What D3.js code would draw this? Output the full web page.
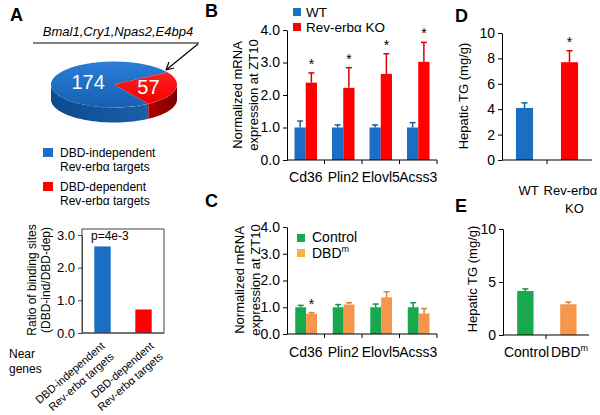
<!DOCTYPE html>
<html><head><meta charset="utf-8">
<script src="https://cdn.jsdelivr.net/npm/d3@7"></script>
<style>body{margin:0;background:#fff} svg{display:block;font-family:Arial,"Liberation Sans",Helvetica,sans-serif}</style>
</head><body><svg id="c" width="600" height="415"></svg>
<script>
// ---------------- DATA ----------------
const pieCats = ["DBD-independent", "DBD-dependent"];
const pieValues = [174, 57];
const pieGenes = "Bmal1,Cry1,Npas2,E4bp4";
const ratioCats = ["DBD-independent", "DBD-dependent"];
const ratioValues = [2.65, 0.72];
const ratioTicks = [0, 1, 2, 3];
const ratioP = "p=4e-3";

const genes = ["Cd36", "Plin2", "Elovl5", "Acss3"];
const exprTicks = [0, 1, 2, 3, 4];
const wtMean = [1, 1, 1, 1];
const wtErr = [0.2, 0.08, 0.08, 0.15];
const koMean = [2.38, 2.22, 2.65, 3.02];
const koErr = [0.3, 0.62, 0.62, 0.6];
const koSig = [true, true, true, true];

const ctrlMean = [1, 1, 1, 1];
const ctrlErr = [0.07, 0.1, 0.12, 0.17];
const dbdMean = [0.76, 1.1, 1.37, 0.77];
const dbdErr = [0.04, 0.07, 0.21, 0.18];
const dbdSig = [true, false, false, false];

const tgDCats = ["WT", "Rev-erbα KO"];
const tgDMean = [4.1, 7.7];
const tgDErr = [0.4, 0.9];
const tgDSig = [false, true];
const tgDTicks = [0, 2, 4, 6, 8, 10];

const tgECats = ["Control", "DBDm"];
const tgEMean = [4.15, 2.9];
const tgEErr = [0.2, 0.2];
const tgESig = [false, false];
const tgETicks = [0, 5, 10];

// ---------------- COLORS ----------------
const BLUE = "#1a6fc4", RED = "#ff0000", GREEN = "#18a84e", ORANGE = "#f5964a", ORANGE_LEG = "#f8b43a";

const svg = d3.select("#c");

function letter(t, x, y) {
  svg.append("text").attr("x", x).attr("y", y).attr("font-size", 18)
    .attr("font-weight", "bold").text(t);
}
function ylabel(lines, x0, cy, fs, lh) {
  lines.forEach((l, i) => {
    svg.append("text").attr("transform", `translate(${x0 + i * lh},${cy}) rotate(-90)`)
      .attr("text-anchor", "middle").attr("font-size", fs).text(l);
  });
}

function barPanel(o) {
  const g = svg.append("g");
  const x = d3.scaleBand().domain(o.cats).range(o.xr).padding(0);
  const y = d3.scaleLinear().domain(o.yd).range(o.yr);
  const sub = d3.scaleBand().domain(d3.range(o.series.length))
    .range([x.bandwidth() * o.gf[0], x.bandwidth() * o.gf[1]]).padding(0);
  o.series.forEach((s, si) => {
    const data = s.mean.map((v, i) => ({
      v, e: s.err[i], i,
      c: s.colors ? s.colors[i] : s.color,
      sig: s.sig ? s.sig[i] : false,
      cx: x(o.cats[i]) + sub(si) + sub.bandwidth() / 2
    }));
    const sg = g.append("g");
    sg.selectAll("rect").data(data).join("rect")
      .attr("x", d => d.cx - sub.bandwidth() / 2)
      .attr("width", sub.bandwidth())
      .attr("y", d => y(d.v)).attr("height", d => y(0) - y(d.v))
      .attr("fill", d => d.c);
    const ed = data.filter(d => d.e > 0);
    const ec = d => d3.color(d.c).darker(0.4).formatHex();
    sg.selectAll("line.e").data(ed).join("line").attr("class", "e")
      .attr("x1", d => d.cx).attr("x2", d => d.cx)
      .attr("y1", d => y(d.v)).attr("y2", d => y(d.v + d.e))
      .attr("stroke", ec).attr("stroke-width", 1.5);
    sg.selectAll("line.c").data(ed).join("line").attr("class", "c")
      .attr("x1", d => d.cx - 3).attr("x2", d => d.cx + 3)
      .attr("y1", d => y(d.v + d.e)).attr("y2", d => y(d.v + d.e))
      .attr("stroke", ec).attr("stroke-width", 1.5);
    sg.selectAll("text.s").data(data.filter(d => d.sig)).join("text").attr("class", "s")
      .attr("x", d => d.cx).attr("y", d => y(d.v + d.e) - 4)
      .attr("text-anchor", "middle").attr("font-size", 14).text("*");
  });
  const ya = g.append("g").attr("transform", `translate(${o.xr[0]},0)`)
    .call(d3.axisLeft(y).tickValues(o.ticks).tickSize(4).tickSizeOuter(0).tickPadding(3));
  ya.selectAll("text").attr("font-size", o.fs).attr("font-family", null).attr("fill", "#000");
  ya.selectAll("line,path").attr("stroke", o.axisColor || "#000");
  g.append("line").attr("x1", o.xr[0]).attr("x2", o.xr[1]).attr("y1", y(0)).attr("y2", y(0))
    .attr("stroke", o.axisColor || "#000");
  if (o.xticks) {
    const tk = o.xticksAt || o.cats;
    g.selectAll("line.xt").data(tk).join("line").attr("class", "xt")
      .attr("x1", c => x(c) + x.bandwidth()).attr("x2", c => x(c) + x.bandwidth())
      .attr("y1", y(0)).attr("y2", y(0) + 4).attr("stroke", "#000");
  }
  return { g, x, y, sub };
}

// ---------------- PANEL A (pie) ----------------
letter("A", 10, 21);
const pcx = 114, pcy = 84.5, prx = 63, pry = 23, pdepth = 15;
const k = pry / prx;
const pie = d3.pie().sort(null).startAngle(147 * Math.PI / 180).endAngle((147 + 360) * Math.PI / 180);
const parcs = pie(pieValues);
const defs = svg.append("defs");
function grad(id, c1, c2, vertical) {
  const gr = defs.append("linearGradient").attr("id", id)
    .attr("x1", 0).attr("y1", 0).attr("x2", vertical ? 0 : 1).attr("y2", vertical ? 1 : 0);
  gr.append("stop").attr("offset", "0%").attr("stop-color", c1);
  gr.append("stop").attr("offset", "100%").attr("stop-color", c2);
}
grad("gBlueTop", "#2a7ed6", "#1660b2", true);
grad("gRedTop", "#ff2020", "#f00000", true);
grad("gBlueSide", "#0d4a8e", "#1a5fa8", false);
grad("gRedSide", "#b00000", "#7a0000", false);
const topFill = ["url(#gBlueTop)", "url(#gRedTop)"];
const sideFill = ["url(#gBlueSide)", "url(#gRedSide)"];
parcs.forEach((a, i) => {
  const t0 = a.startAngle - Math.PI / 2, t1 = a.endAngle - Math.PI / 2;
  for (let m = -2; m <= 2; m++) {
    const lo = Math.max(t0, m * 2 * Math.PI), hi = Math.min(t1, m * 2 * Math.PI + Math.PI);
    if (hi > lo) {
      const n = 40, pts = [];
      for (let j = 0; j <= n; j++) {
        const t = lo + (hi - lo) * j / n;
        pts.push([pcx + prx * Math.cos(t), pcy + pry * Math.sin(t)]);
      }
      const bot = pts.slice().reverse().map(p => [p[0], p[1] + pdepth]);
      svg.append("path").attr("d", d3.line()(pts.concat(bot)) + "Z").attr("fill", sideFill[i]);
    }
  }
});
const arcGen = d3.arc().innerRadius(0).outerRadius(prx);
const topG = svg.append("g").attr("transform", `translate(${pcx},${pcy}) scale(1,${k})`);
topG.selectAll("path").data(parcs).join("path").attr("d", arcGen).attr("fill", (d, i) => topFill[i]);
const labR = [0.42, 0.56];
parcs.forEach((a, i) => {
  const mid = (a.startAngle + a.endAngle) / 2 - Math.PI / 2;
  const r = prx * labR[i];
  svg.append("text").attr("x", pcx + r * Math.cos(mid)).attr("y", pcy + r * k * Math.sin(mid) + 7)
    .attr("text-anchor", "middle").attr("font-size", 20).attr("fill", "#fff").text(a.data);
});
svg.append("text").attr("x", 118).attr("y", 36).attr("text-anchor", "middle")
  .attr("font-size", 13).attr("font-style", "italic").text(pieGenes);
svg.append("line").attr("x1", 33).attr("x2", 199).attr("y1", 43).attr("y2", 43).attr("stroke", "#000");
svg.append("line").attr("x1", 198).attr("y1", 44).attr("x2", 166).attr("y2", 70).attr("stroke", "#000").attr("stroke-width", 1.2);
svg.append("path").attr("d", "M166,70 l3,-8 M166,70 l8,-2").attr("stroke", "#000").attr("stroke-width", 1.2).attr("fill", "none");
const legA = [[BLUE, pieCats[0], 148], [RED, pieCats[1], 182]];
legA.forEach(([c, t, yy]) => {
  svg.append("rect").attr("x", 43).attr("y", yy).attr("width", 10).attr("height", 9).attr("fill", c);
  svg.append("text").attr("x", 60).attr("y", yy + 9).attr("font-size", 12).text(t);
  svg.append("text").attr("x", 60).attr("y", yy + 23).attr("font-size", 12).text("Rev-erbα targets");
});

// ---------------- PANEL A (ratio bars) ----------------
const ra = barPanel({
  cats: ratioCats, xr: [82, 164], yd: [0, 3], yr: [333, 235], ticks: ratioTicks,
  gf: [0.3, 0.7], fs: 13, axisColor: "#444",
  series: [{ mean: ratioValues, err: [0, 0], colors: [BLUE, RED] }]
});
svg.append("rect").attr("x", 82).attr("y", 229).attr("width", 82).attr("height", 104)
  .attr("fill", "none").attr("stroke", "#444");
svg.append("text").attr("x", 91).attr("y", 240).attr("font-size", 12).text(ratioP);
ylabel(["Ratio of binding sites", "(DBD-ind/DBD-dep)"], 36, 280, 12, 14);
svg.append("text").attr("x", 9).attr("y", 358).attr("font-size", 12).text("Near");
svg.append("text").attr("x", 9).attr("y", 373).attr("font-size", 12).text("genes");
ratioCats.forEach((c, i) => {
  const gx = ra.x(c) + ra.x.bandwidth() / 2 + 3 + 8 * i;
  const tg = svg.append("g").attr("transform", `translate(${gx},347) rotate(-41)`);
  tg.append("text").attr("text-anchor", "end").attr("font-size", 11).text(c);
  tg.append("text").attr("text-anchor", "end").attr("y", 14).attr("font-size", 11).text("Rev-erbα targets");
});

// ---------------- PANEL B ----------------
letter("B", 205, 17);
const pb = barPanel({
  cats: genes, xr: [287, 437], yd: [0, 4], yr: [160, 30], ticks: exprTicks, gf: [0.2, 0.8], fs: 14, xticks: true,
  series: [{ mean: wtMean, err: wtErr, color: BLUE }, { mean: koMean, err: koErr, color: RED, sig: koSig }]
});
pb.g.selectAll("text.xl").data(genes).join("text").attr("class", "xl")
  .attr("x", c => pb.x(c) + pb.x.bandwidth() / 2).attr("y", 182).attr("text-anchor", "middle")
  .attr("font-size", 14).text(c => c);
ylabel(["Normalized mRNA", "expression at ZT10"], 242, 95, 13, 16);
[[BLUE, "WT", 8], [RED, "Rev-erbα KO", 23]].forEach(([c, t, yy]) => {
  svg.append("rect").attr("x", 293).attr("y", yy).attr("width", 8).attr("height", 8).attr("fill", c);
  svg.append("text").attr("x", 306).attr("y", yy + 9).attr("font-size", 13.5).text(t);
});

// ---------------- PANEL C ----------------
letter("C", 205, 207);
const pc = barPanel({
  cats: genes, xr: [287, 437], yd: [0, 4], yr: [334, 227], ticks: exprTicks, gf: [0.22, 0.8], fs: 14, xticks: true,
  series: [{ mean: ctrlMean, err: ctrlErr, color: GREEN }, { mean: dbdMean, err: dbdErr, color: ORANGE, sig: dbdSig }]
});
pc.g.selectAll("text.xl").data(genes).join("text").attr("class", "xl")
  .attr("x", c => pc.x(c) + pc.x.bandwidth() / 2).attr("y", 357).attr("text-anchor", "middle")
  .attr("font-size", 14).text(c => c);
ylabel(["Normalized mRNA", "expression at ZT10"], 244, 280, 13, 16);
svg.append("rect").attr("x", 297).attr("y", 234).attr("width", 8).attr("height", 8).attr("fill", GREEN);
svg.append("text").attr("x", 312).attr("y", 242).attr("font-size", 14).text("Control");
svg.append("rect").attr("x", 297).attr("y", 249).attr("width", 8).attr("height", 8).attr("fill", ORANGE_LEG);
const dl = svg.append("text").attr("x", 312).attr("y", 258).attr("font-size", 14).text("DBD");
dl.append("tspan").attr("font-size", 9).attr("dy", -6).text("m");

// ---------------- PANEL D ----------------
letter("D", 455, 22);
const pd = barPanel({
  cats: tgDCats, xr: [502, 592], yd: [0, 10], yr: [160, 33], ticks: tgDTicks, gf: [0.31, 0.69], fs: 14, xticks: true,
  xticksAt: [tgDCats[0]],
  series: [{ mean: tgDMean, err: tgDErr, colors: [BLUE, RED], sig: tgDSig }]
});
svg.append("text").attr("x", pd.x(tgDCats[0]) + pd.x.bandwidth() / 2 + 4).attr("y", 195)
  .attr("text-anchor", "middle").attr("font-size", 13).text("WT");
svg.append("text").attr("x", pd.x(tgDCats[1]) + pd.x.bandwidth() / 2 + 1).attr("y", 195)
  .attr("text-anchor", "middle").attr("font-size", 13).text("Rev-erbα");
svg.append("text").attr("x", pd.x(tgDCats[1]) + pd.x.bandwidth() / 2 + 5).attr("y", 213)
  .attr("text-anchor", "middle").attr("font-size", 13).text("KO");
ylabel(["Hepatic TG (mg/g)"], 468, 96, 13, 0);

// ---------------- PANEL E ----------------
letter("E", 455, 212);
const pe = barPanel({
  cats: tgECats, xr: [503, 589], yd: [0, 10], yr: [335, 229], ticks: tgETicks, gf: [0.33, 0.71], fs: 14, xticks: true,
  xticksAt: [tgECats[0]],
  series: [{ mean: tgEMean, err: tgEErr, colors: [GREEN, ORANGE], sig: tgESig }]
});
svg.append("text").attr("x", pe.x(tgECats[0]) + pe.x.bandwidth() / 2 + 2).attr("y", 357)
  .attr("text-anchor", "middle").attr("font-size", 14).text("Control");
const el = svg.append("text").attr("x", pe.x(tgECats[1]) + pe.x.bandwidth() / 2 + 2).attr("y", 357)
  .attr("text-anchor", "middle").attr("font-size", 14).text("DBD");
el.append("tspan").attr("font-size", 9).attr("dy", -6).text("m");
ylabel(["Hepatic TG (mg/g)"], 477, 279, 13, 0);
</script></body></html>
